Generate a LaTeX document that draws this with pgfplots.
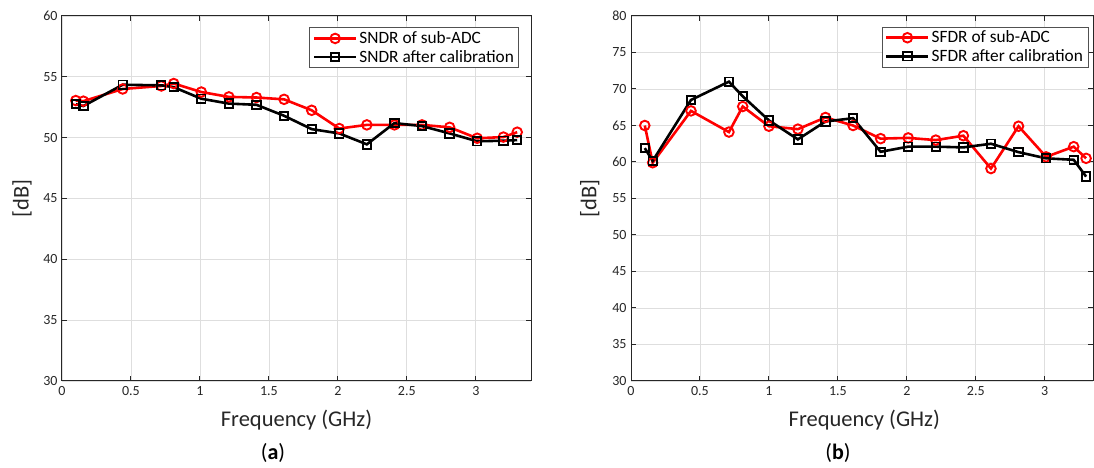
\documentclass[border=0pt]{standalone}
\usepackage{fontspec}
\setmainfont{Carlito}
\usepackage{pgfplots}
\usepackage{pgfplotstable}
\pgfplotsset{compat=1.18}
\definecolor{axcol}{HTML}{262626}
\definecolor{gridcol}{HTML}{DEDEDE}

\pgfplotstableread{
f y
0.10 53.05
0.155 53.0
0.44 54.0
0.72 54.25
0.81 54.45
1.01 53.75
1.21 53.35
1.41 53.3
1.61 53.15
1.81 52.25
2.01 50.75
2.21 51.05
2.41 51.05
2.61 51.05
2.81 50.85
3.01 49.95
3.20 50.05
3.30 50.45
}\sndrsub

\pgfplotstableread{
f y
0.10 52.75
0.155 52.6
0.44 54.35
0.72 54.3
0.81 54.15
1.01 53.2
1.21 52.8
1.41 52.7
1.61 51.8
1.81 50.7
2.01 50.35
2.21 49.45
2.41 51.2
2.61 50.95
2.81 50.35
3.01 49.7
3.20 49.75
3.30 49.8
}\sndrcal

\pgfplotstableread{
f y
0.10 65.0
0.157 59.9
0.435 67.0
0.71 64.1
0.81 67.6
1.00 64.9
1.21 64.5
1.41 66.1
1.61 65.0
1.81 63.2
2.01 63.3
2.21 63.0
2.41 63.6
2.61 59.1
2.81 64.9
3.01 60.7
3.21 62.1
3.30 60.5
}\sfdrsub

\pgfplotstableread{
f y
0.10 61.9
0.157 60.15
0.435 68.5
0.71 71.0
0.81 69.0
1.00 65.7
1.21 63.1
1.41 65.55
1.61 66.0
1.81 61.4
2.01 62.1
2.21 62.1
2.41 62.0
2.61 62.5
2.81 61.35
3.01 60.5
3.21 60.3
3.30 58.0
}\sfdrcal

\pgfplotsset{
  matstyle/.style={
    scale only axis,
    anchor=south west,
    height=365pt,
    xmin=0,
    ymin=30,
    xtick={0,0.5,...,3},
    xticklabels={0,0.5,1,1.5,2,2.5,3},
    grid=major,
    major grid style={gridcol, line width=0.8pt},
    axis line style={axcol, line width=1pt},
    tick style={axcol, line width=1pt},
    tick align=inside,
    major tick length=5pt,
    /pgf/number format/assume math mode=true,
    tick label style={font=\fontsize{14}{16}\selectfont, text=axcol},
    xticklabel style={yshift=-2pt},
    yticklabel style={xshift=-1pt},
    label style={font=\fontsize{22.5}{26}\selectfont, text=axcol},
    xlabel={Frequency (GHz)},
    ylabel={[dB]},
    legend cell align=left,
    legend style={font=\fontsize{17.3}{20}\selectfont, draw=axcol!80, line width=0.8pt,
      inner xsep=3pt, inner ysep=2pt, row sep=1pt, anchor=north east},
    legend image code/.code={\draw[mark repeat=2,mark phase=2,#1] plot coordinates {(0pt,0pt) (21pt,0pt) (42pt,0pt)};},
  },
  subline/.style={red, line width=2.6pt, mark=o, mark size=4.8pt, mark options={solid, line width=1.9pt, fill=white}},
  calline/.style={black, line width=2.6pt, mark=square, mark size=4.2pt, mark options={solid, line width=1.9pt, fill=white}},
}

\begin{document}
\begin{tikzpicture}
\useasboundingbox (0pt,0pt) rectangle (1094pt,468pt);
\begin{axis}[matstyle,
  at={(62pt,87pt)},
  width=469pt,
  xmax=3.4,
  ymax=60,
  ytick={30,35,...,60},
  xlabel style={at={(axis description cs:0.5,-0.107)}, anchor=center},
  ylabel style={at={(axis description cs:-0.085,0.5)}, anchor=center},
  legend style={at={(rel axis cs:0.975,0.969)}},
]
\addplot[subline] table[x=f,y=y] {\sndrsub};
\addlegendentry{SNDR of sub-ADC}
\addplot[calline] table[x=f,y=y] {\sndrcal};
\addlegendentry{SNDR after calibration}
\end{axis}

\begin{axis}[matstyle,
  at={(631pt,87pt)},
  width=462pt,
  xmax=3.35,
  ymax=80,
  ytick={30,35,...,80},
  xlabel style={at={(axis description cs:0.505,-0.107)}, anchor=center},
  ylabel style={at={(axis description cs:-0.089,0.5)}, anchor=center},
  legend style={at={(rel axis cs:0.9898,0.971)}},
]
\addplot[subline] table[x=f,y=y] {\sfdrsub};
\addlegendentry{SFDR of sub-ADC}
\addplot[calline] table[x=f,y=y] {\sfdrcal};
\addlegendentry{SFDR after calibration}
\end{axis}

\node[font=\fontsize{22}{26}\selectfont\rmfamily] at (273pt,15pt) {(\textbf{a})};
\node[font=\fontsize{22}{26}\selectfont\rmfamily] at (838pt,15pt) {(\textbf{b})};
\end{tikzpicture}
\end{document}
